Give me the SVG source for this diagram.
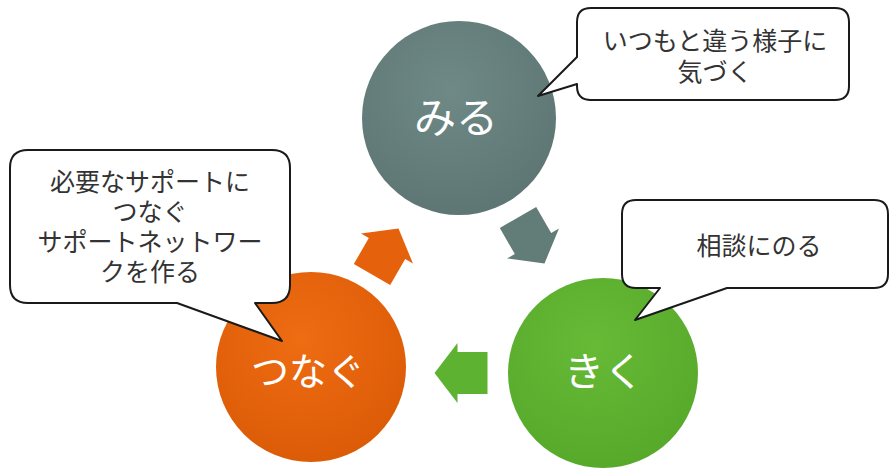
<svg xmlns="http://www.w3.org/2000/svg" width="890" height="470" viewBox="0 0 890 470">
<defs>
<radialGradient id="gGray" cx="45%" cy="35%" r="70%"><stop offset="0" stop-color="#6f8986"/><stop offset="1" stop-color="#5c7572"/></radialGradient>
<radialGradient id="gGreen" cx="45%" cy="35%" r="70%"><stop offset="0" stop-color="#67ba36"/><stop offset="1" stop-color="#56a82a"/></radialGradient>
<radialGradient id="gOrange" cx="45%" cy="35%" r="70%"><stop offset="0" stop-color="#ee6c12"/><stop offset="1" stop-color="#db5a06"/></radialGradient>
<polygon id="arr" points="-26,-21 4,-21 4,-30 27,0 4,30 4,21 -26,21"/>
</defs>
<style>
.circ-text{font-family:"Noto Sans CJK JP","Noto Sans",sans-serif;fill:#ffffff;text-anchor:middle}
.call{fill:#ffffff;stroke:#1a1a1a;stroke-width:2;stroke-linejoin:round}
.call-text{font-family:"Liberation Sans","Noto Sans CJK JP",sans-serif;fill:#333333;text-anchor:middle}
</style>
<rect width="890" height="470" fill="#ffffff"/>
<g id="connectors">
<use href="#arr" fill="#627c78" transform="translate(531,240) rotate(60)"/>
<use href="#arr" fill="#5db331" transform="translate(461.5,373) rotate(180)"/>
<use href="#arr" fill="#e5610b" transform="translate(385,252) rotate(-60)"/>
</g>
<g id="node-miru">
<circle cx="459" cy="118" r="97" fill="url(#gGray)"/>
<text class="circ-text" x="456" y="133" font-size="42">みる</text>
</g>
<g id="node-kiku">
<circle cx="603" cy="373" r="95" fill="url(#gGreen)"/>
<text class="circ-text" x="604" y="386" font-size="40" fill="#f2fbe8">きく</text>
</g>
<g id="node-tsunagu">
<circle cx="311" cy="367" r="95" fill="url(#gOrange)"/>
<text class="circ-text" x="308" y="385" font-size="38">つなぐ</text>
</g>
<g id="callout-miru">
<path class="call" d="M591,8 H835 Q849,8 849,22 V86 Q849,100 835,100 H591 Q577,100 577,86 V84 L538,96 L577,57 V22 Q577,8 591,8 Z"/>
<text class="call-text" font-size="25"><tspan x="715" y="50">いつもと違う様子に</tspan><tspan x="715" y="81">気づく</tspan></text>
</g>
<g id="callout-kiku">
<path class="call" d="M636,200 H874 Q888,200 888,214 V274 Q888,288 874,288 H727 L635,320 L660,288 H636 Q622,288 622,274 V214 Q622,200 636,200 Z"/>
<text class="call-text" x="759" y="255" font-size="25">相談にのる</text>
</g>
<g id="callout-tsunagu">
<path class="call" d="M28,150 H272 Q290,150 290,168 V285 Q290,303 272,303 H255 L282,341 L177,303 H28 Q10,303 10,285 V168 Q10,150 28,150 Z"/>
<text class="call-text" font-size="25"><tspan x="150" y="191">必要なサポートに</tspan><tspan x="150" y="221">つなぐ</tspan><tspan x="150" y="251">サポートネットワー</tspan><tspan x="150" y="281">クを作る</tspan></text>
</g>
</svg>
